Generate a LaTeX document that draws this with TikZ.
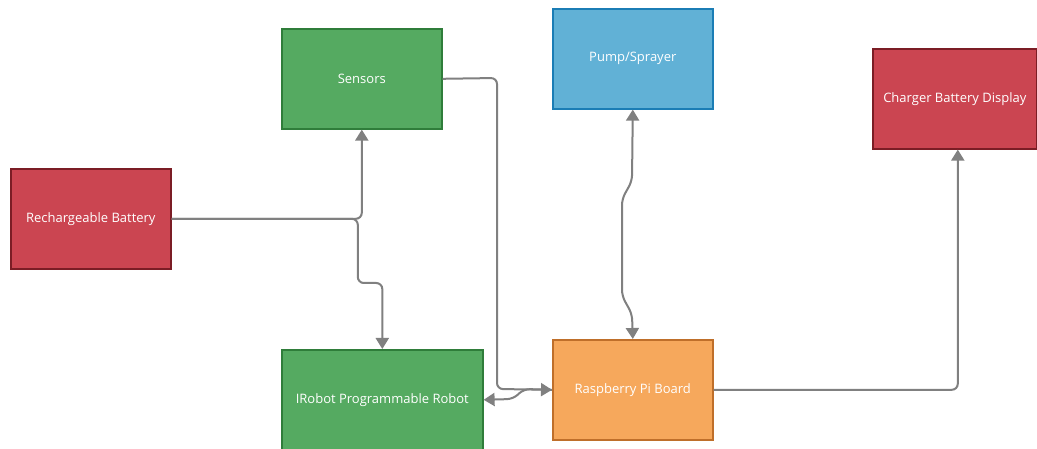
\documentclass[tikz,border=0pt]{standalone}
\usepackage{fontspec}
\setmainfont{Open Sans}
\usetikzlibrary{arrows.meta}
\definecolor{redfill}{HTML}{CB4551}
\definecolor{redline}{HTML}{7B1D25}
\definecolor{greenfill}{HTML}{55AA61}
\definecolor{greenline}{HTML}{2F7D3A}
\definecolor{bluefill}{HTML}{61B1D6}
\definecolor{blueline}{HTML}{1B7DB5}
\definecolor{orangefill}{HTML}{F6A85C}
\definecolor{orangeline}{HTML}{BF6F2A}
\definecolor{conncol}{HTML}{808080}
\tikzset{
  box/.style={draw, line width=1.6pt, minimum width=160pt, minimum height=100pt,
    text=white, font=\fontsize{13}{15}\selectfont, inner sep=0pt, anchor=north west},
  redbox/.style={box, fill=redfill, draw=redline},
  greenbox/.style={box, fill=greenfill, draw=greenline},
  bluebox/.style={box, fill=bluefill, draw=blueline},
  orangebox/.style={box, fill=orangefill, draw=orangeline},
  conn/.style={draw=conncol, line width=2pt, rounded corners=6pt,
    -{Triangle[width=13pt,length=11pt]}},
  biconn/.style={conn, {Triangle[width=13pt,length=11pt]}-{Triangle[width=13pt,length=11pt]}}
}
\begin{document}
\begin{tikzpicture}[x=1pt,y=-1pt]
\useasboundingbox (0,0) rectangle (1037,449);
\fill[white] (0,0) rectangle (1037,449);
\node[redbox] (battery) at (10,168) {Rechargeable Battery};
\node[greenbox] (sensors) at (281,28) {Sensors};
\node[bluebox] (pump) at (552,8) {Pump/Sprayer};
\node[redbox, minimum width=164pt] (charger) at (872,48) {Charger Battery Display};
\node[greenbox, minimum width=201pt] (robot) at (281,349) {IRobot Programmable Robot};
\node[orangebox] (pi) at (552,339) {Raspberry Pi Board};

% battery -> sensors
\draw[conn] (battery.east) -| (sensors.south);
% battery -> robot
\draw[conn] (battery.east) -- ([xshift=-4pt]sensors.south |- battery.east)
  -- ([xshift=-4pt]sensors.south |- 0,283) -- (robot.north |- 0,283) -- (robot.north);
% sensors -> pi
\draw[conn] (sensors.east) -- (497,78) -- (497,389) -- (pi.west);
% pi -> robot
\draw[conn] (pi.west) -- (524,389) -- (513,399) -- (robot.east);
% pump <-> pi
\draw[biconn] (pump.south) -- (632,181) -- (622,199) -- (622,296) -- (632,314) -- (pi.north);
% pi -> charger
\draw[conn] (pi.east) -| ([xshift=3pt]charger.south);
\end{tikzpicture}
\end{document}
